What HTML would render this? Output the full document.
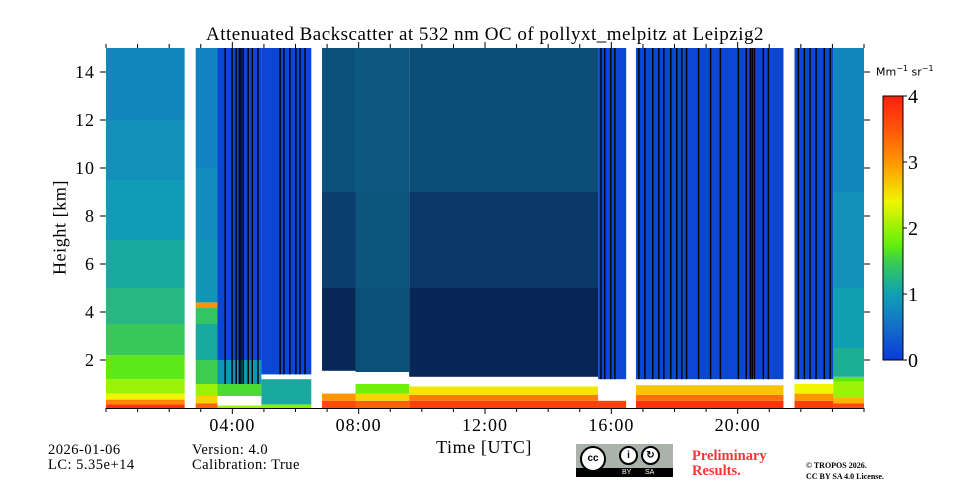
<!DOCTYPE html>
<html><head><meta charset="utf-8">
<style>
html,body{margin:0;padding:0;background:#fff;}
#wrap{position:relative;width:960px;height:480px;overflow:hidden;font-family:"Liberation Serif",serif;}
svg text{font-family:"Liberation Serif",serif;}
</style></head>
<body>
<div id="wrap">
<svg id="chart" width="960" height="480"></svg>
</div>
<script>
// ---- data ----
const segStart = [0.0, 2.49, 2.84, 3.53, 4.92, 6.50, 6.84, 7.9, 9.6, 15.58, 16.47, 16.78, 21.45, 21.80, 23.03];
const segEnd   = [2.49, 2.84, 3.53, 4.92, 6.50, 6.84, 7.9, 9.6, 15.58, 16.47, 16.78, 21.45, 21.80, 23.03, 24.0];
const segType  = ['clear','gap','clear2','blueA','blueB','gap','noisyA','noisyS','noisyB','blueC','gap','blueD','gap','blueE','clear3'];
const profTop = {
  clear:  [0.15,0.35,0.6,1.2,2.2,3.5,5,7,9.5,12,15],
  clear2: [0.2,0.5,1.0,2.0,3.5,4.2,4.4,7,10,15],
  clear3: [0.2,0.45,1.1,1.3,2.5,5,9,15],
  blueA:  [0.1,0.5,1.0,2.0,15],
  blueB:  [0.15,1.2,1.4,15],
  noisyA: [0.3,0.6,1.0,1.55,5,9,15],
  noisyS: [0.3,0.6,1.0,1.5,5,9,15],
  noisyB: [0.3,0.55,0.9,1.3,5,9,15],
  blueC:  [0.3,0.6,1.2,15],
  blueD:  [0.3,0.55,0.95,1.2,15],
  blueE:  [0.3,0.6,1.0,1.2,15]
};
const profVal = {
  clear:  [3.8,3.1,2.4,2.0,1.7,1.45,1.25,1.1,0.95,0.85,0.75],
  clear2: [3.4,2.6,2.0,1.5,1.1,1.4,3.0,0.9,0.8,0.7],
  clear3: [3.6,2.8,2.0,1.7,1.15,1.0,0.85,0.75],
  blueA:  [2.0,NaN,1.6,0.9,0.12],
  blueB:  [1.9,1.1,NaN,0.12],
  noisyA: [3.6,3.0,NaN,NaN,0.35,0.5,0.65],
  noisyS: [3.4,2.6,1.8,NaN,0.7,0.7,0.7],
  noisyB: [3.7,3.2,2.5,NaN,0.3,0.5,0.65],
  blueC:  [3.7,NaN,NaN,0.12],
  blueD:  [3.8,3.3,2.7,NaN,0.12],
  blueE:  [3.7,3.0,2.4,NaN,0.12]
};
const profCov = {
  noisyA: [1,1,1,1,0.42,0.55,0.65],
  noisyS: [1,1,1,1,0.62,0.65,0.68],
  noisyB: [1,1,1,1,0.42,0.52,0.62]
};
const stripeHours = [3.75,3.97,4.1,4.2,4.25,4.32,4.48,4.61,4.79,5.49,5.61,5.8,5.99,6.12,6.28,
  15.65,15.77,15.96,16.09,16.85,17.04,17.29,17.48,17.64,17.86,18.05,18.21,18.36,18.74,19.12,19.43,
  20.0,20.25,20.38,20.44,20.51,20.79,20.95,21.9,22.09,22.27,22.46,22.72,22.91];
const stripeBase = [1.0,1.0,1.0,1.0,1.0,1.0,1.0,1.0,1.0,1.4,1.4,1.4,1.4,1.4,1.4,
  1.2,1.2,1.2,1.2,1.2,1.2,1.2,1.2,1.2,1.2,1.2,1.2,1.2,1.2,1.2,1.2,
  1.2,1.2,1.2,1.2,1.2,1.2,1.2,1.2,1.2,1.2,1.2,1.2,1.2];
const xTickHours = [4,8,12,16,20];
const xTickLabels = ['04:00','08:00','12:00','16:00','20:00'];
const yTickKm = [2,4,6,8,10,12,14];
const cbTicks = [0,1,2,3,4];

// ---- scales ----
const X0=106, X1=864, Y0=408, Y1=48;
const xS = h => X0 + (X1-X0)*h/24;
const yS = k => Y0 - (Y0-Y1)*k/15;
const cStops=[[0,[10,58,216]],[0.5,[20,110,200]],[1,[16,160,180]],[1.5,[60,205,80]],[1.75,[100,240,10]],[2.4,[240,245,0]],[3,[255,150,0]],[3.5,[255,85,10]],[4,[255,30,15]]];
function cmap(v){v=Math.max(0,Math.min(4,v));for(let i=1;i<cStops.length;i++){if(v<=cStops[i][0]){const a=cStops[i-1],b=cStops[i],t=(v-a[0])/(b[0]-a[0]);return a[1].map((c,j)=>Math.round(c+(b[1][j]-c)*t));}}return cStops[cStops.length-1][1];}
const rgb=c=>`rgb(${c[0]},${c[1]},${c[2]})`;

const NS='http://www.w3.org/2000/svg';
const svg=document.getElementById('chart');
function mk(tag,attrs,parent){const e=document.createElementNS(NS,tag);for(const k in attrs)e.setAttribute(k,attrs[k]);(parent||svg).appendChild(e);return e;}

const defs=mk('defs',{});
const grad=mk('linearGradient',{id:'cbg',x1:0,y1:1,x2:0,y2:0},defs);
cStops.forEach(s=>mk('stop',{offset:(s[0]/4*100)+'%','stop-color':rgb(s[1])},grad));

// ---- heatmap ----
const heat=mk('g',{});


for(let i=0;i<segType.length;i++){
  const t=segType[i]; if(t==='gap') continue;
  const xa=xS(segStart[i]), xb=xS(segEnd[i]);
  let lo=0;
  profTop[t].forEach((top,j)=>{
    const v=profVal[t][j];
    if(!isNaN(v)){
      let c=cmap(v);
      if(profCov[t]) c=c.map(q=>Math.round(q*profCov[t][j]));
      const r=mk('rect',{x:xa,y:yS(top),width:xb-xa,height:yS(lo)-yS(top),fill:rgb(c)},heat);
      
      
    }
    lo=top;
  });
}
stripeHours.forEach((h,i)=>{
  const r=mk('rect',{x:xS(h),y:Y1,width:1.4,height:yS(stripeBase[i])-Y1,fill:'#000'},heat);
  
  
});

// ---- axes ----
const ax=mk('g',{stroke:'#000','stroke-width':1,fill:'none'});


mk('line',{x1:X0,y1:Y0+0.5,x2:X1,y2:Y0+0.5},ax);
for(let h=0;h<=24;h++){
  const x=xS(h), major=h%4===0 && h>0 && h<24;
  mk('line',{x1:x,y1:Y0,x2:x,y2:Y0+(major?6:4)},ax);
  mk('line',{x1:x,y1:Y1,x2:x,y2:Y1-(major?6:4)},ax);
}
yTickKm.forEach(k=>{
  const y=yS(k);
  mk('line',{x1:X0,y1:y,x2:X0-6,y2:y},ax);
  mk('line',{x1:X1,y1:y,x2:X1+6,y2:y},ax);
});
xTickHours.forEach((h,i)=>{
  const t=mk('text',{x:xS(h),y:431,'text-anchor':'middle','font-size':18,'letter-spacing':1,fill:'#000'});
  t.textContent=xTickLabels[i];
  
  
});
yTickKm.forEach(k=>{
  const t=mk('text',{x:95,y:yS(k)+6,'text-anchor':'end','font-size':18,'letter-spacing':1,fill:'#000'});
  t.textContent=String(k);
  
  
});

// ---- colorbar ----
const cb=mk('rect',{x:883,y:96,width:20,height:264,fill:'url(#cbg)',stroke:'#000','stroke-width':1});


cbTicks.forEach(v=>{
  const y=360-264*v/4;
  mk('line',{x1:903,y1:y,x2:907,y2:y,stroke:'#000'});
  const t=mk('text',{x:908,y:y+7,'font-size':20,fill:'#000'});
  t.textContent=String(v);
  
  
});
</script>
<div style="position:absolute;left:0;top:0;width:960px;height:480px;pointer-events:none;">
  <div style="position:absolute;left:0;width:970px;top:24px;text-align:center;font-size:19px;letter-spacing:0.5px;">Attenuated Backscatter at 532 nm OC of pollyxt_melpitz at Leipzig2</div>
  <div style="position:absolute;left:-2px;top:217px;width:124px;text-align:center;font-size:18px;letter-spacing:0.6px;transform:rotate(-90deg);">Height [km]</div>
  <div style="position:absolute;left:384px;width:200px;top:437px;text-align:center;font-size:18px;letter-spacing:0.6px;">Time [UTC]</div>
  <div style="position:absolute;left:876px;top:64px;font-family:'DejaVu Sans','Liberation Sans',sans-serif;font-size:11px;">Mm<sup style="font-size:8px">−1</sup> sr<sup style="font-size:8px">−1</sup></div>
  <div style="position:absolute;left:48px;top:443px;font-size:14.5px;line-height:15px;letter-spacing:0.5px;">2026-01-06<br>LC: 5.35e+14</div>
  <div style="position:absolute;left:192px;top:443px;font-size:14.5px;line-height:15px;letter-spacing:0.5px;">Version: 4.0<br>Calibration: True</div>
  <div style="position:absolute;left:576px;top:444px;width:97px;height:33px;background:#aab2ab;">
    <div style="position:absolute;left:0;bottom:0;width:97px;height:9px;background:#000;color:#fff;font-family:'Liberation Sans',sans-serif;font-size:7px;line-height:9px;"><span style="position:absolute;left:46px">BY</span><span style="position:absolute;left:69px">SA</span></div>
    <div style="position:absolute;left:4px;top:2px;width:22px;height:22px;border-radius:50%;background:#fff;border:2px solid #000;font:bold 10px 'Liberation Sans',sans-serif;line-height:22px;text-align:center;">cc</div>
    <div style="position:absolute;left:43px;top:2px;width:15px;height:15px;border-radius:50%;background:#fff;border:2px solid #000;font:bold 10px 'Liberation Sans',sans-serif;line-height:15px;text-align:center;">i</div>
    <div style="position:absolute;left:65px;top:2px;width:15px;height:15px;border-radius:50%;background:#fff;border:2px solid #000;font:bold 10px 'Liberation Sans',sans-serif;line-height:15px;text-align:center;">↻</div>
  </div>
  <div style="position:absolute;left:692px;top:449px;font-size:14.5px;line-height:15px;font-weight:bold;color:#ff3333;">Preliminary<br>Results.</div>
  <div style="position:absolute;left:806px;top:460px;font-size:8px;line-height:11px;font-weight:bold;">© TROPOS 2026.<br>CC BY SA 4.0 License.</div>
</div>
</body></html>
